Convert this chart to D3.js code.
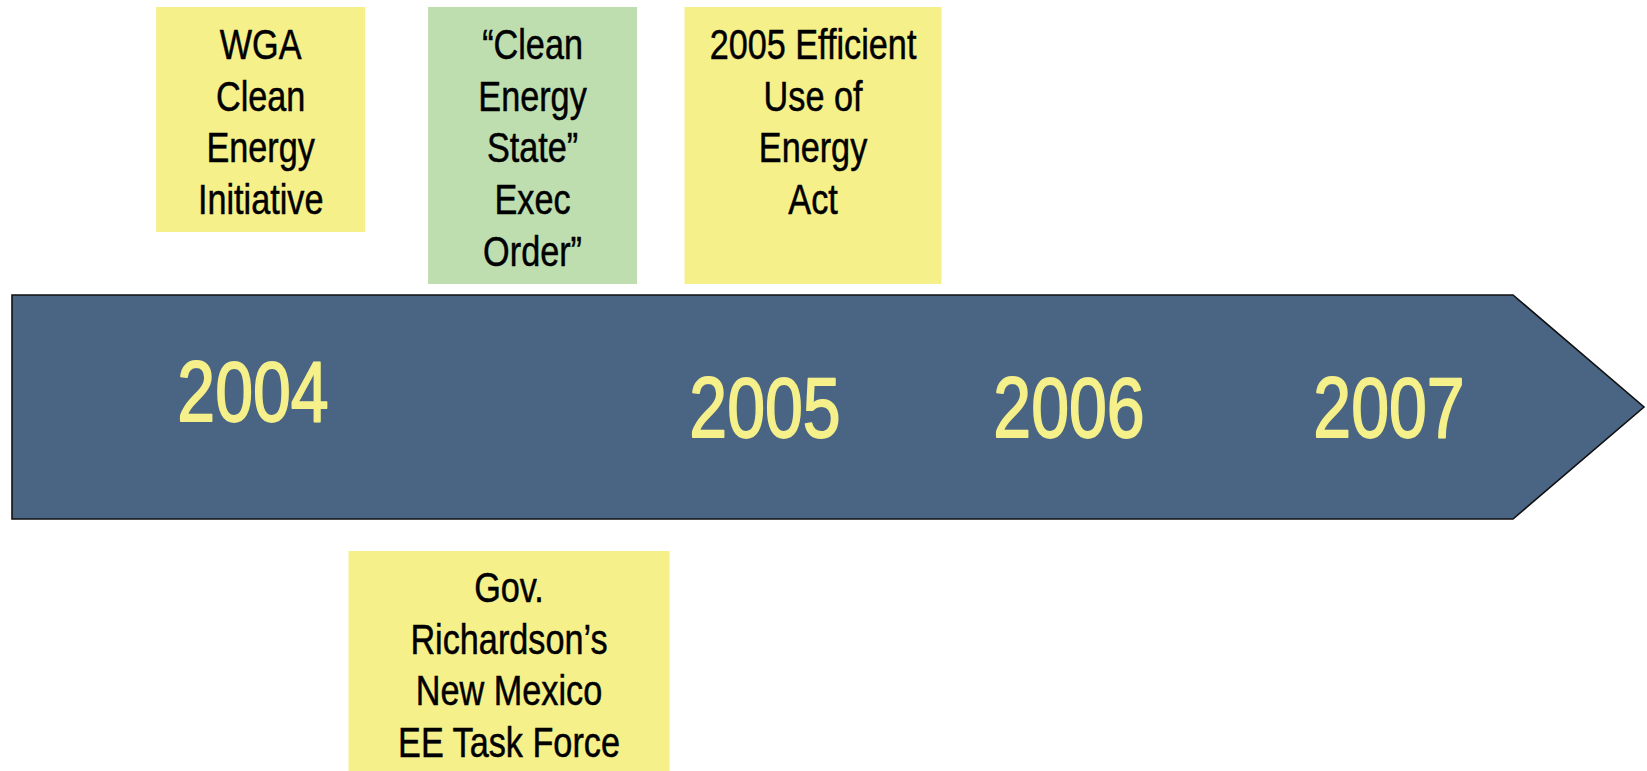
<!DOCTYPE html>
<html>
<head>
<meta charset="utf-8">
<script src="https://cdn.jsdelivr.net/npm/d3@7"></script>
<style>
  html, body { margin: 0; padding: 0; background: #ffffff; }
  svg { display: block; }
  text { font-family: "Liberation Sans", Arial, sans-serif; }
</style>
</head>
<body>
<svg id="chart" width="1647" height="771"></svg>
<script>
// ---------- DATA ----------
const yearLabels = ["2004", "2005", "2006", "2007"];
const yearValues = [2004, 2005, 2006, 2007];
const yearRaised = [true, false, false, false];

const eventTitles = [
  ["WGA", "Clean", "Energy", "Initiative"],
  ["\u201CClean", "Energy", "State\u201D", "Exec", "Order\u201D"],
  ["2005 Efficient", "Use of", "Energy", "Act"],
  ["Gov.", "Richardson\u2019s", "New Mexico", "EE Task Force"]
];
const eventTimes = [2004.015, 2004.546, 2005.158, 2004.50];
const eventSide = ["above", "above", "above", "below"];
const eventKind = ["initiative", "order", "initiative", "initiative"];

// ---------- LAYOUT / STYLE (not data) ----------
const x = d3.scaleLinear().domain([2004, 2005, 2006, 2007]).range([253, 765, 1069, 1389]);
const boxWidths = [209, 209, 257, 321];
const boxHeights = [225, 277, 277, 230];
const colour = d3.scaleOrdinal().domain(["initiative", "order"]).range(["#f5f08a", "#bfdeb0"]);
const NARROW = 0.815; // emulate a narrow sans face

const arrow = { left: 12, top: 295, bottom: 519, neck: 1513, tip: 1644 };

const svg = d3.select("#chart");

// arrow
const mid = (arrow.top + arrow.bottom) / 2;
svg.append("path")
  .attr("d", d3.line()([
    [arrow.left, arrow.top], [arrow.neck, arrow.top], [arrow.tip, mid],
    [arrow.neck, arrow.bottom], [arrow.left, arrow.bottom]
  ]) + "Z")
  .attr("fill", "#4a6584")
  .attr("stroke", "#111")
  .attr("stroke-width", 1.6);

// year labels
svg.selectAll("text.year")
  .data(yearLabels.map((t, i) => ({ t, v: yearValues[i], raised: yearRaised[i] })))
  .join("text")
  .attr("class", "year")
  .attr("transform", d => `translate(${x(d.v)},${d.raised ? 421 : 437}) scale(0.8,1)`)
  .attr("text-anchor", "middle")
  .attr("font-size", 85)
  .attr("fill", "#f5f08a")
  .attr("stroke", "#f5f08a")
  .attr("stroke-width", 1.8)
  .attr("stroke-linejoin", "round")
  .text(d => d.t);

// event boxes
const events = eventTitles.map((lines, i) => ({
  lines, time: eventTimes[i], side: eventSide[i], kind: eventKind[i],
  w: boxWidths[i], h: boxHeights[i]
}));

const g = svg.selectAll("g.event").data(events).join("g").attr("class", "event");

g.append("rect")
  .attr("x", d => x(d.time) - d.w / 2)
  .attr("y", d => d.side === "above" ? 7 : 551)
  .attr("width", d => d.w)
  .attr("height", d => d.h)
  .attr("fill", d => colour(d.kind));

g.each(function (d) {
  const top = d.side === "above" ? 59 : 602;
  d3.select(this).selectAll("text")
    .data(d.lines)
    .join("text")
    .attr("transform", (t, j) => `translate(${x(d.time)},${top + j * 51.7}) scale(${NARROW},1)`)
    .attr("text-anchor", "middle")
    .attr("font-size", 42)
    .attr("fill", "#000")
    .attr("stroke", "#000")
    .attr("stroke-width", 0.5)
    .text(t => t);
});
</script>
</body>
</html>
